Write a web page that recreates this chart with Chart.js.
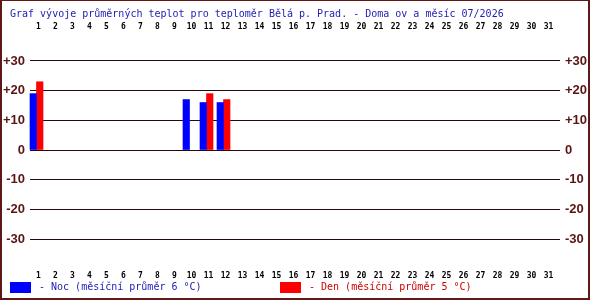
<!DOCTYPE html>
<html>
<head>
<meta charset="utf-8">
<script src="https://cdn.jsdelivr.net/npm/chart.js@4/dist/chart.umd.min.js"></script>
<style>
html,body{margin:0;padding:0;background:#fff;}
#wrap{position:relative;width:590px;height:300px;overflow:hidden;background:#fff;}
#c{position:absolute;left:0;top:0;}
#frame{position:absolute;left:0;top:0;width:590px;height:300px;box-sizing:border-box;border-style:solid;border-color:#5e1818;border-width:1px 2px 2px 2px;pointer-events:none;}
.t{position:absolute;font-family:"DejaVu Sans Mono",monospace;font-size:10px;line-height:10px;white-space:pre;}
.box{position:absolute;width:21px;height:11px;}
</style>
</head>
<body>
<div id="wrap">
  <canvas id="c" width="590" height="300"></canvas>
  <div id="title" class="t" style="left:10px;top:9px;color:#1c1cb4;"></div>
  <div class="box" style="left:10px;top:282px;background:#0000ff;"></div>
  <div id="leg1" class="t" style="left:39px;top:282px;color:#1c1cb4;"></div>
  <div class="box" style="left:280px;top:282px;background:#ff0000;"></div>
  <div id="leg2" class="t" style="left:309px;top:282px;color:#cc0000;"></div>
  <div id="frame"></div>
</div>
<script>
// ---- data ----
const titleText = 'Graf vývoje průměrných teplot pro teploměr Bělá p. Prad. - Doma ov a měsíc 07/2026';
const days = ['1','2','3','4','5','6','7','8','9','10','11','12','13','14','15','16','17','18','19','20','21','22','23','24','25','26','27','28','29','30','31'];
const nightLabel = '- Noc (měsíční průměr 6 °C)';
const dayLabel = '- Den (měsíční průměr 5 °C)';
const nightTemps = [19,null,null,null,null,null,null,null,null,17,16,16,null,null,null,null,null,null,null,null,null,null,null,null,null,null,null,null,null,null,null];
const dayTemps   = [23,null,null,null,null,null,null,null,null,null,19,17,null,null,null,null,null,null,null,null,null,null,null,null,null,null,null,null,null,null,null];
const yTickValues = [-30,-20,-10,0,10,20,30];

document.getElementById('title').textContent = titleText;
document.getElementById('leg1').textContent = nightLabel;
document.getElementById('leg2').textContent = dayLabel;

// shift the category scales so each bar pair starts at the left of its day slot
const barShift = {
  id: 'barShift',
  afterLayout(chart) {
    const a = chart.chartArea;
    ['x','x2'].forEach(id => {
      const s = chart.scales[id];
      const w = 17 * days.length;
      s.left = a.left - 2;
      s.right = s.left + w;
      s.width = w;
      s.configure();
    });
  }
};

const tickFont = {family: 'DejaVu Sans Mono', size: 8, weight: 'bold'};
const yFont = {family: 'Liberation Sans', size: 13, weight: 'bold'};
const yColor = '#5a1414';
const yLabel = v => (v > 0 ? '+' + v : String(v));

new Chart(document.getElementById('c'), {
  type: 'bar',
  data: {
    labels: days,
    datasets: [
      {label: nightLabel, data: nightTemps, backgroundColor: '#0000ff', barThickness: 6.5, xAxisID: 'x', yAxisID: 'y'},
      {label: dayLabel, data: dayTemps, backgroundColor: '#ff0000', barThickness: 6.5, xAxisID: 'x', yAxisID: 'y'}
    ]
  },
  plugins: [barShift],
  options: {
    responsive: false,
    animation: false,
    devicePixelRatio: 1,
    layout: {padding: 0},
    plugins: {legend: {display: false}, title: {display: false}, tooltip: {enabled: false}},
    scales: {
      x: {
        type: 'category', position: 'bottom', offset: true,
        grid: {display: false}, border: {display: false},
        ticks: {autoSkip: false, maxRotation: 0, minRotation: 0, padding: 5.4, labelOffset: 2, font: tickFont, color: '#000'},
        afterFit(s) { s.height = 42; }
      },
      x2: {
        type: 'category', position: 'top', offset: true, labels: days,
        grid: {display: false}, border: {display: false},
        ticks: {autoSkip: false, maxRotation: 0, minRotation: 0, padding: 2.4, labelOffset: 2, font: tickFont, color: '#000'},
        afterFit(s) { s.height = 42; }
      },
      y: {
        type: 'linear', position: 'left', min: -36.4, max: 36.4,
        afterBuildTicks(s) { s.ticks = yTickValues.map(v => ({value: v})); },
        ticks: {callback: yLabel, padding: 5, font: yFont, color: yColor},
        grid: {color: '#2a0808', lineWidth: 1, drawTicks: false},
        border: {display: false},
        afterFit(s) { s.width = 30; }
      },
      y2: {
        type: 'linear', position: 'right', min: -36.4, max: 36.4,
        afterBuildTicks(s) { s.ticks = yTickValues.map(v => ({value: v})); },
        ticks: {callback: yLabel, padding: 5, font: yFont, color: yColor},
        grid: {display: false, drawTicks: false},
        border: {display: false},
        afterFit(s) { s.width = 30; }
      }
    }
  }
});
</script>
</body>
</html>
